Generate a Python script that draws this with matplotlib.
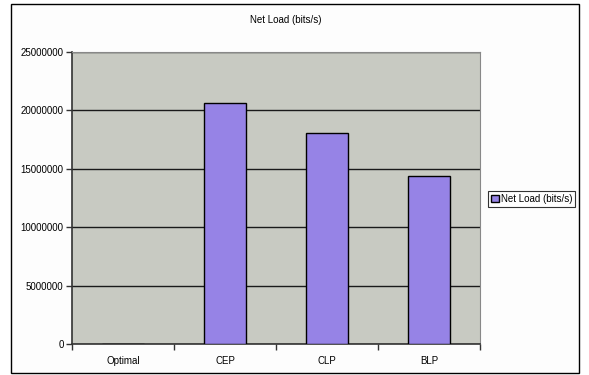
import numpy as np
import matplotlib.pyplot as plt
from matplotlib.patches import Rectangle

categories = ['Optimal', 'CEP', 'CLP', 'BLP']
net_load = [0, 20600000, 18100000, 14380000]
yticks = [0, 5000000, 10000000, 15000000, 20000000, 25000000]

plt.rcParams['font.family'] = ['Liberation Sans', 'DejaVu Sans']

fig = plt.figure(figsize=(5.89, 3.75), dpi=100)
fig.patch.set_facecolor('white')

W, H = 589, 375
# outer chart border, kept behind the axes
fig.patches.append(Rectangle((11 / W, 2 / H), (579 - 11) / W, (371 - 2) / H,
                             transform=fig.transFigure, fill=True,
                             facecolor='#fdfdfd', edgecolor='black', lw=1.0,
                             zorder=-10))

ax = fig.add_axes([72 / W, 1 - 344 / H, (480 - 72) / W, (344 - 52) / H])
ax.set_facecolor('#c8cac2')

x = np.arange(len(categories))
bars = ax.bar(x, net_load, width=0.41, color='#9683e6', edgecolor='black',
              linewidth=1.0, label='Net Load (bits/s)', zorder=3)

ax.set_xlim(-0.5, len(categories) - 0.5)
ax.set_ylim(0, 25000000)
ax.set_yticks(yticks)
ax.set_yticklabels([str(v) for v in yticks], fontsize=7)
ax.yaxis.grid(True, color='#1a1a1a', lw=1.0, zorder=1)
ax.set_axisbelow(True)

ax.set_xticks(x)
ax.set_xticklabels(categories, fontsize=7)
ax.tick_params(axis='x', length=0, pad=9)
ax.set_xticks(np.arange(-0.5, len(categories)), minor=True)
ax.tick_params(axis='x', which='minor', length=4, color='#333333', width=1)
ax.tick_params(axis='y', length=4, color='#333333', width=1, pad=2)

for side in ['top', 'right']:
    ax.spines[side].set_color('#888888')
for side in ['left', 'bottom']:
    ax.spines[side].set_color('#333333')
    ax.spines[side].set_linewidth(1.2)

fig.text(286 / W, 1 - 20 / H, 'Net Load (bits/s)', ha='center', va='center', fontsize=7)

leg = fig.legend(handles=[bars], labels=['Net Load (bits/s)'], loc='center left',
                 bbox_to_anchor=(488 / W, 1 - 199 / H), fontsize=7, frameon=True,
                 fancybox=False, handlelength=0.8, handleheight=0.8,
                 handletextpad=0.2, borderpad=0.3, borderaxespad=0)
leg.get_frame().set_edgecolor('black')
leg.get_frame().set_linewidth(0.8)

fig.savefig('out.png', dpi=100)
